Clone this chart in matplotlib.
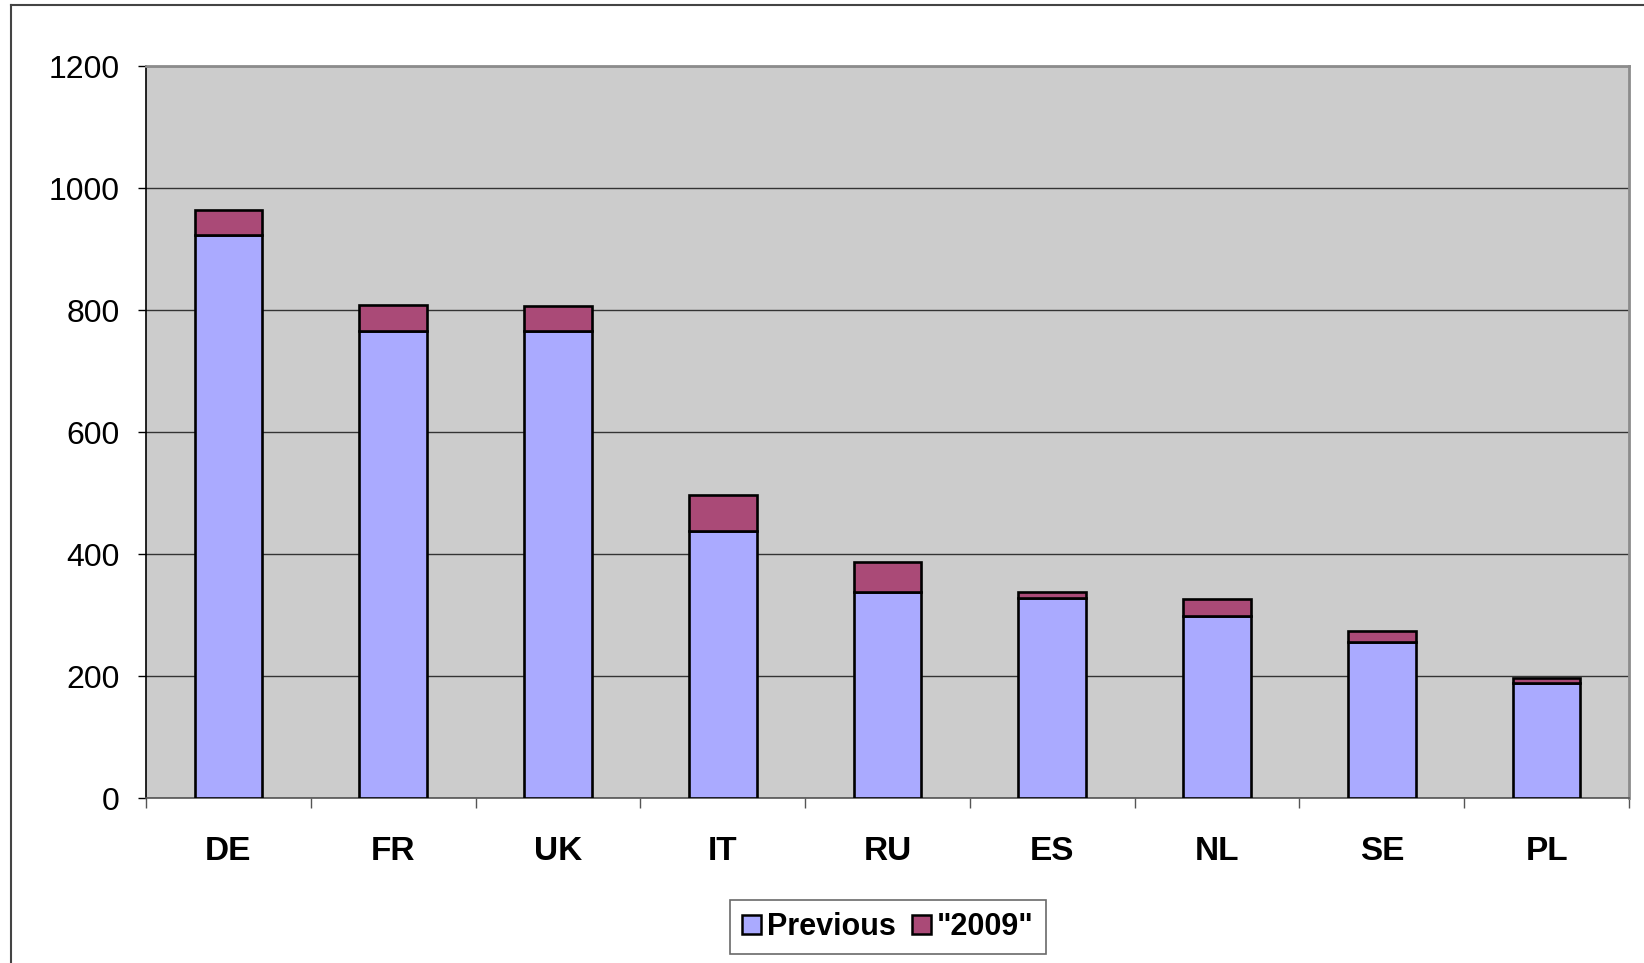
import numpy as np
import matplotlib
matplotlib.use("Agg")
import matplotlib.pyplot as plt
from matplotlib.lines import Line2D
from matplotlib.patches import Patch

countries = ["DE", "FR", "UK", "IT", "RU", "ES", "NL", "SE", "PL"]
previous = [923, 766, 766, 438, 338, 328, 299, 255, 189]
new_2009 = [41, 42, 40, 59, 49, 9, 27, 18, 8]
yticks = [0, 200, 400, 600, 800, 1000, 1200]

plt.rcParams['font.family'] = ['Liberation Sans', 'DejaVu Sans']

fig = plt.figure(figsize=(16.44, 9.63), dpi=100)
ax = fig.add_axes([146 / 1644, 1 - 798 / 963, (1629 - 146) / 1644, (798 - 66) / 963])

x = np.arange(len(countries))
w = 0.41
ax.bar(x, previous, width=w, color="#AAAAFF", edgecolor="black", linewidth=1.9, zorder=3)
ax.bar(x, new_2009, width=w, bottom=previous, color="#AA4A77", edgecolor="black",
       linewidth=1.9, zorder=3)

ax.set_facecolor("#CCCCCC")
ax.set_xlim(-0.5, len(countries) - 0.5)
ax.set_ylim(0, 1200)
ax.set_yticks(yticks)
ax.set_yticklabels([str(v) for v in yticks], fontsize=23)
ax.yaxis.grid(True, color="#333333", linewidth=1.0, zorder=0)
ax.set_axisbelow(True)

ax.set_xticks(x)
ax.set_xticklabels(countries, fontsize=24, fontweight="bold")
ax.set_xticks(np.arange(-0.5, len(countries), 1.0), minor=True)
ax.tick_params(axis="x", which="major", length=0, pad=27)
ax.tick_params(axis="x", which="minor", length=7, width=1.0, color="#555555", direction="out")
ax.tick_params(axis="y", length=6, width=1.0, pad=13, direction="out")

for s in ["top", "right"]:
    ax.spines[s].set_color("#8C8C8C")
    ax.spines[s].set_linewidth(2)
ax.spines["left"].set_color("black")
ax.spines["left"].set_linewidth(1.2)
ax.spines["bottom"].set_color("#555555")
ax.spines["bottom"].set_linewidth(1.2)

# outer chart frame
fig.add_artist(Line2D([11 / 1644, 11 / 1644], [0, 1 - 5 / 963], color="#444444", linewidth=1.5))
fig.add_artist(Line2D([11 / 1644, 1], [1 - 5 / 963, 1 - 5 / 963], color="#444444", linewidth=1.5))

handles = [Patch(facecolor="#AAAAFF", edgecolor="black", linewidth=1.8, label="Previous"),
           Patch(facecolor="#AA4A77", edgecolor="black", linewidth=1.8, label='"2009"')]
leg = fig.legend(handles=handles, loc="center", bbox_to_anchor=(888 / 1644, 1 - 927 / 963),
                 ncol=2, frameon=True, fancybox=False, handlelength=0.6, handleheight=0.6,
                 handletextpad=0.2, columnspacing=0.55, borderpad=0.4, borderaxespad=0,
                 prop={"size": 22, "weight": "bold"})
leg.get_frame().set_edgecolor("#444444")
leg.get_frame().set_linewidth(1.2)

fig.savefig("out.png", dpi=100)
